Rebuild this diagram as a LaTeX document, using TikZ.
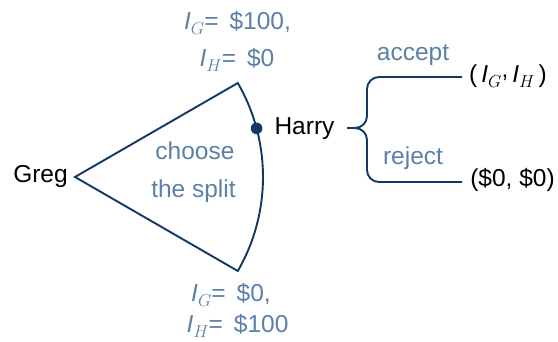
\documentclass[tikz,border=0pt]{standalone}
\usepackage{fontspec}
\setmainfont{Liberation Sans}
\usetikzlibrary{calc}
\definecolor{navy}{RGB}{18,56,102}
\definecolor{lbl}{RGB}{92,128,168}
\tikzset{
  txt/.style={inner sep=0pt, anchor=base, font=\fontsize{24.5}{29}\selectfont},
  lab/.style={txt, text=lbl},
  ln/.style={draw=navy, line width=1.9pt},
}
\newcommand{\mysub}[1]{\raisebox{-4.5pt}{\fontsize{18}{18}\selectfont$#1$}}
\newcommand{\IG}{\textit{I}\mysub{G}}
\newcommand{\IH}{\textit{I}\mysub{H}}
\newcommand{\eqsp}{=\hspace{0.45em}}
\begin{document}
\begin{tikzpicture}[x=1pt,y=1pt]
\useasboundingbox (0,0) rectangle (558,342);
\coordinate (apex) at (75,165);
\draw[ln, line join=miter] (apex) -- ++(30:188) arc[start angle=30, end angle=-30, radius=188] -- cycle;
\coordinate (hdot) at ($(apex)+(15:188)$);
\fill[navy] (hdot) circle (5.8);
\node[txt] (greg) at (40.5,159) {Greg};
\node[txt] (harry) at (304.5,207) {Harry};
\node[lab] (choose) at (195,182) {choose};
\node[lab] (split) at (193.5,144) {the split};
\node[lab] (t1) at (237.5,312) {\IG\eqsp\$100,};
\node[lab] (t2) at (237,275) {\IH\eqsp\$0};
\node[lab] (b1) at (231,40) {\IG\eqsp\$0,};
\node[lab] (b2) at (237.5,9) {\IH\eqsp\$100};
\coordinate (bs) at (347,214);
\coordinate (bm) at (367,214);
\coordinate (acc) at (462,265);
\coordinate (rej) at (462,160);
\draw[ln, rounded corners=12pt] (bs) -- (bm) -- (367,265) -- (acc);
\draw[ln, rounded corners=12pt] (bs) -- (bm) -- (367,160) -- (rej);
\node[lab] (accept) at (413,281) {accept};
\node[lab] (reject) at (413,177) {reject};
\node[txt] (payA) at (508,259) {(\,\IG\raisebox{5pt}{,}\,\IH\,)};
\node[txt] (payR) at (512.5,155) {(\$0, \$0)};
\end{tikzpicture}
\end{document}
